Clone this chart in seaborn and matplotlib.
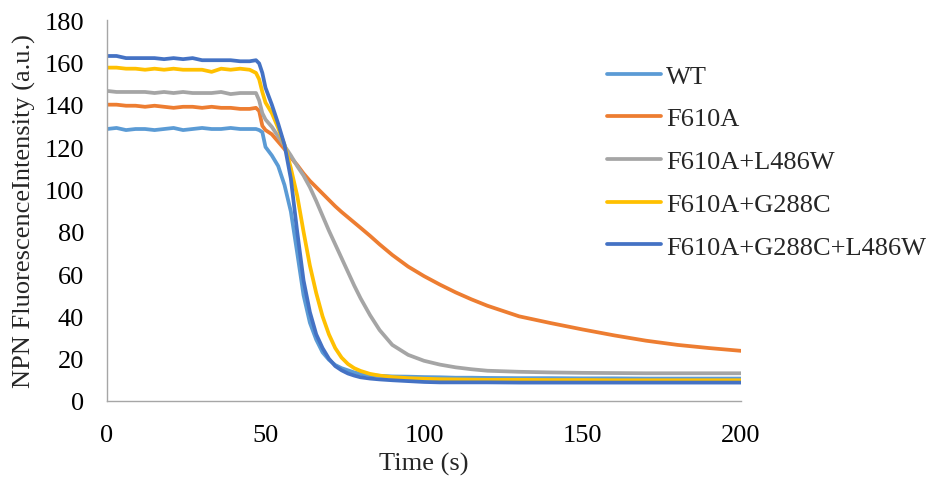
import matplotlib
matplotlib.use("Agg")
import matplotlib.pyplot as plt
import seaborn as sns
import pandas as pd

time_s = [0, 3, 6, 9, 12, 15, 18, 21, 24, 27, 30, 33, 36, 39, 42, 45, 47, 48, 49, 50,
          52, 54, 56, 58, 60, 62, 64, 66, 68, 70, 72, 74, 76, 78, 80, 83, 86, 90, 95, 100,
          105, 110, 115, 120, 130, 140, 150, 160, 170, 180, 190, 200]

wt = [128.5, 129, 128, 128.5, 128.5, 128, 128.5, 129, 128, 128.5, 129, 128.5, 128.5, 129, 128.5, 128.5, 128.5, 128, 127, 120,
      116, 111, 102, 89.5, 70, 50, 37, 29, 23, 19.5, 17, 15.5, 14.5, 13.5, 12.8, 12.2, 11.9, 11.6, 11.5, 11.3,
      11.2, 11, 11, 10.9, 10.8, 10.8, 10.7, 10.7, 10.6, 10.6, 10.6, 10.6]

f610a = [140, 140, 139.5, 139.5, 139, 139.5, 139, 138.5, 139, 139, 138.5, 139, 138.5, 138.5, 138, 138, 138.5, 137, 130, 128,
         126, 122.5, 119, 115, 111.5, 107.5, 104, 101, 98, 95, 92, 89.3, 86.8, 84.3, 81.8, 78, 74, 69, 63.5, 59,
         55, 51.3, 48, 45, 40, 36.8, 33.8, 31, 28.5, 26.5, 25, 23.7]

f610a_l486w = [146.5, 146, 146, 146, 146, 145.5, 146, 145.5, 146, 145.5, 145.5, 145.5, 146, 145, 145.5, 145.5, 145.5, 142, 136, 133,
               129.5, 125, 120.5, 116, 111, 106.5, 101, 94.5, 87.5, 80.5, 74, 67.5, 61, 54.5, 48.5, 40.5, 33.5, 26.5, 21.8, 19,
               17.2, 15.9, 15, 14.3, 13.8, 13.5, 13.3, 13.2, 13.1, 13.1, 13.1, 13.1]

f610a_g288c = [157.5, 157.5, 157, 157, 156.5, 157, 156.5, 157, 156.5, 156.5, 156.5, 155.5, 157, 156.5, 157, 156.5, 155, 152, 146, 141,
               136, 129, 121, 110, 97, 80, 64, 51, 40, 31.5, 25, 20.5, 17.5, 15.5, 14.2, 12.8, 12, 11.3, 10.8, 10.5,
               10.3, 10.2, 10.1, 10, 10, 9.9, 9.9, 9.8, 9.8, 9.8, 9.8, 9.8]

f610a_g288c_l486w = [163, 163, 162, 162, 162, 162, 161.5, 162, 161.5, 162, 161, 161, 161, 161, 160.5, 160.5, 161, 159.5, 155, 148,
                     140, 131, 121, 105, 80, 57, 42, 31.5, 25, 20, 16.5, 14.5, 13, 12, 11.2, 10.6, 10.2, 9.8, 9.4, 9,
                     8.8, 8.8, 8.8, 8.8, 8.7, 8.7, 8.7, 8.7, 8.7, 8.7, 8.7, 8.7]

series_names = ["WT", "F610A", "F610A+L486W", "F610A+G288C", "F610A+G288C+L486W"]
series_values = [wt, f610a, f610a_l486w, f610a_g288c, f610a_g288c_l486w]
colors = ["#5B9BD5", "#ED7D31", "#A5A5A5", "#FFC000", "#4472C4"]

rows = []
for name, vals in zip(series_names, series_values):
    for t, v in zip(time_s, vals):
        rows.append({"Time": t, "Value": v, "Series": name})
df = pd.DataFrame(rows)

sns.set_style("white")
plt.rcParams["font.family"] = ["Liberation Serif", "DejaVu Serif"]

fig = plt.figure(figsize=(9.3, 4.85), dpi=100)
ax = fig.add_axes([107 / 930, 1 - 402 / 485, (741 - 107) / 930, (402 - 21) / 485])

sns.lineplot(data=df, x="Time", y="Value", hue="Series", hue_order=series_names,
             palette=dict(zip(series_names, colors)), linewidth=2.7, ax=ax, legend=False)

ax.set_xlim(0, 200)
ax.set_ylim(0, 180)
ax.set_xticks([0, 50, 100, 150, 200])
ax.set_yticks(list(range(0, 181, 20)))
for s in ["top", "right"]:
    ax.spines[s].set_visible(False)
for s in ["left", "bottom"]:
    ax.spines[s].set_color("#A6A6A6")
    ax.spines[s].set_linewidth(1.0)
ax.tick_params(axis="both", direction="out", length=5.5, width=1.0, color="#A6A6A6",
               labelsize=19, labelcolor="black")
ax.tick_params(axis="y", pad=11)
ax.tick_params(axis="x", pad=11)
ax.set_xlabel("Time (s)", fontsize=19, labelpad=4)
ax.set_ylabel("NPN FluorescenceIntensity (a.u.)", fontsize=19, labelpad=6)

handles = [plt.Line2D([0], [0], color=c, linewidth=2.7) for c in colors]
fig.legend(handles, series_names, loc="center left", bbox_to_anchor=(607 / 930, 1 - 162.5 / 485),
           frameon=False, fontsize=19, handlelength=2.05, handletextpad=0.2,
           labelspacing=0.73, borderpad=0, borderaxespad=0)

fig.savefig("out.png", dpi=100)
